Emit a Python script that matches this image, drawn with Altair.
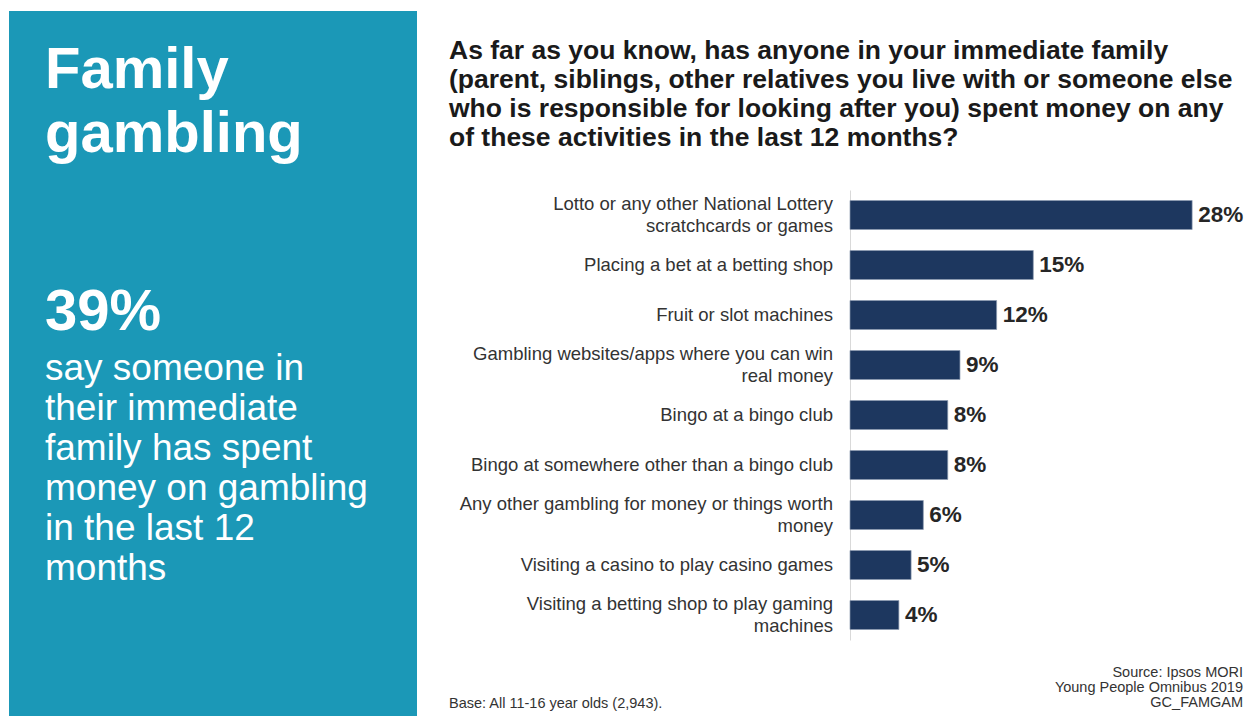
import altair as alt
import pandas as pd

categories = [
    "Lotto or any other National Lottery|scratchcards or games",
    "Placing a bet at a betting shop",
    "Fruit or slot machines",
    "Gambling websites/apps where you can win|real money",
    "Bingo at a bingo club",
    "Bingo at somewhere other than a bingo club",
    "Any other gambling for money or things worth|money",
    "Visiting a casino to play casino games",
    "Visiting a betting shop to play gaming|machines",
]
values = [28, 15, 12, 9, 8, 8, 6, 5, 4]
value_labels = [f"{v}%" for v in values]

panel_title = ["Family", "gambling"]
headline_stat = "39%"
headline_text = ["say someone in", "their immediate", "family has spent",
                 "money on gambling", "in the last 12", "months"]
question = [
    "As far as you know, has anyone in your immediate family",
    "(parent, siblings, other relatives you live with or someone else",
    "who is responsible for looking after you) spent money on any",
    "of these activities in the last 12 months?",
]
base_note = "Base: All 11-16 year olds (2,943)."
source_note = ["Source: Ipsos MORI", "Young People Omnibus 2019", "GC_FAMGAM"]

df = pd.DataFrame({"activity": categories, "pct": values, "label": value_labels})

FONT = "Liberation Sans"
TEAL = "#1b98b7"
NAVY = "#1d375f"

y = alt.Y("activity:N", sort=categories,
          scale=alt.Scale(paddingInner=0.42, paddingOuter=0.21),
          axis=alt.Axis(labels=False, ticks=False, title=None, grid=False,
                        domainColor="#d9d9d9", domainWidth=1))
x = alt.X("pct:Q", scale=alt.Scale(domain=[0, 32]), axis=None)

base = alt.Chart(df)
bars = base.mark_bar(color=NAVY, stroke="#8d9bb0", strokeWidth=0.7).encode(x=x, y=y)
vals = base.mark_text(align="left", baseline="middle", dx=6, font=FONT, fontSize=22.5,
                      fontWeight="bold", color="#262626").encode(x=x, y=y, text="label:N")
cat_style = dict(align="right", baseline="middle", dx=-17, lineBreak="|", lineHeight=22,
                 font=FONT, fontSize=18.5, color="#333333")
cats1 = base.mark_text(**cat_style).encode(x=alt.value(0), y=y, text="activity:N").transform_filter(
    "indexof(datum.activity, '|') < 0")
cats2 = base.mark_text(dy=-11, **cat_style).encode(x=alt.value(0), y=y, text="activity:N").transform_filter(
    "indexof(datum.activity, '|') >= 0")

one = alt.Data(values=[{"k": 1}])
panel = alt.Chart(one).mark_rect(color=TEAL).encode(
    x=alt.value(-841), x2=alt.value(-433), y=alt.value(-179), y2=alt.value(526))
t_title = alt.Chart(one).mark_text(text=panel_title, align="left", baseline="alphabetic",
                                   font=FONT, fontSize=58, fontWeight="bold", color="white",
                                   lineHeight=64).encode(x=alt.value(-805), y=alt.value(-102))
t_stat = alt.Chart(one).mark_text(text=headline_stat, align="left", baseline="alphabetic",
                                  font=FONT, fontSize=58, fontWeight="bold", color="white").encode(
    x=alt.value(-805), y=alt.value(140))
t_body = alt.Chart(one).mark_text(text=headline_text, align="left", baseline="alphabetic",
                                  font=FONT, fontSize=37, color="white", lineHeight=40).encode(
    x=alt.value(-805), y=alt.value(190))
t_q = alt.Chart(one).mark_text(text=question, align="left", baseline="alphabetic",
                               font=FONT, fontSize=26.5, fontWeight="bold", color="#1a1a1a",
                               lineHeight=29).encode(x=alt.value(-401), y=alt.value(-131))
t_base = alt.Chart(one).mark_text(text=base_note, align="left", baseline="alphabetic",
                                  font=FONT, fontSize=14.5, color="#333333").encode(
    x=alt.value(-401), y=alt.value(518))
t_src = alt.Chart(one).mark_text(text=source_note, align="right", baseline="alphabetic",
                                 font=FONT, fontSize=14.5, color="#333333", lineHeight=15).encode(
    x=alt.value(393), y=alt.value(487))

chart = alt.layer(panel, t_title, t_stat, t_body, t_q, t_base, t_src,
                  bars, vals, cats1, cats2).properties(
    width=391, height=450,
    autosize=alt.AutoSizeParams(type="none"),
    padding={"left": 842, "top": 182, "right": 3, "bottom": 76},
).configure_view(stroke=None)

chart.save("out.html", embed_options={"renderer": "svg", "actions": False})
